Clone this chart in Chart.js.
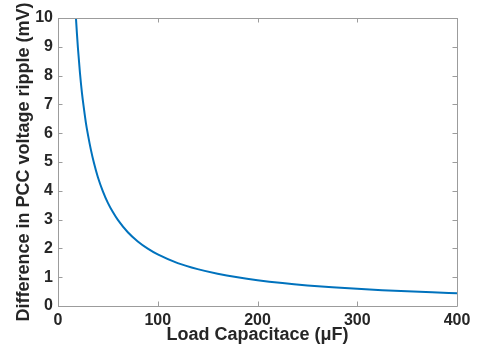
<!DOCTYPE html>
<html>
<head>
<meta charset="utf-8">
<script src="https://cdn.jsdelivr.net/npm/chart.js@4/dist/chart.umd.min.js"></script>
<style>
  html, body { margin: 0; padding: 0; background: #ffffff; }
  #wrap { width: 481px; height: 352px; }
</style>
</head>
<body>
<div id="wrap"><canvas id="c" width="481" height="352"></canvas></div>
<script>
// Load capacitance (µF) and the resulting difference in PCC voltage ripple (mV)
const capacitance = [18, 19, 20, 22, 24, 26, 28, 30, 33, 36, 40, 45, 50, 55, 60, 70, 80, 90, 100,
                     120, 140, 160, 180, 200, 225, 250, 275, 300, 325, 350, 375, 400];
const rippleDiff  = [10, 9.45, 8.95, 8.1, 7.4, 6.85, 6.35, 5.95, 5.42, 4.97, 4.47, 3.98, 3.58, 3.26, 2.99, 2.56, 2.24, 1.99, 1.79,
                     1.49, 1.28, 1.12, 0.995, 0.895, 0.795, 0.715, 0.65, 0.595, 0.55, 0.51, 0.475, 0.445];
const xTicks = [0, 100, 200, 300, 400];
const yTicks = [0, 1, 2, 3, 4, 5, 6, 7, 8, 9, 10];

const axisGray = '#9c9c9c';
const textColor = '#262626';
const fontFamily = '"Liberation Sans", Arial, Helvetica, sans-serif';

// Box around the plot with short inward tick marks on all four sides
const boxTicks = {
  id: 'boxTicks',
  afterDatasetsDraw(chart) {
    const { ctx, chartArea: a, scales: { x, y } } = chart;
    const len = 4.5;
    ctx.save();
    ctx.strokeStyle = axisGray;
    ctx.lineWidth = 1;
    ctx.beginPath();
    ctx.rect(Math.round(a.left) + 0.5, Math.round(a.top) + 0.5,
             Math.round(a.right - a.left), Math.round(a.bottom - a.top));
    x.ticks.forEach(t => {
      const px = Math.round(x.getPixelForValue(t.value)) + 0.5;
      ctx.moveTo(px, a.bottom); ctx.lineTo(px, a.bottom - len);
      ctx.moveTo(px, a.top);    ctx.lineTo(px, a.top + len);
    });
    y.ticks.forEach(t => {
      const py = Math.round(y.getPixelForValue(t.value)) + 0.5;
      ctx.moveTo(a.left, py);  ctx.lineTo(a.left + len, py);
      ctx.moveTo(a.right, py); ctx.lineTo(a.right - len, py);
    });
    ctx.stroke();
    ctx.restore();
  }
};

new Chart(document.getElementById('c'), {
  type: 'line',
  data: {
    datasets: [{
      data: capacitance.map((c, i) => ({ x: c, y: rippleDiff[i] })),
      borderColor: '#0072BD',
      borderWidth: 2,
      pointRadius: 0,
      fill: false,
      cubicInterpolationMode: 'monotone'
    }]
  },
  options: {
    responsive: false,
    animation: false,
    devicePixelRatio: 1,
    layout: { padding: { left: 0, top: 18, right: 24, bottom: 6 } },
    plugins: { legend: { display: false }, tooltip: { enabled: false } },
    scales: {
      x: {
        type: 'linear',
        min: 0, max: 400,
        afterBuildTicks: s => { s.ticks = xTicks.map(v => ({ value: v })); },
        afterFit: s => { s.height = 40; },
        grid: { display: false, drawTicks: false },
        border: { display: false },
        ticks: {
          padding: 5,
          color: textColor,
          font: { family: fontFamily, size: 16, weight: 'bold' },
          maxRotation: 0
        },
        title: {
          display: true,
          text: 'Load Capacitace (μF)',
          color: textColor,
          font: { family: fontFamily, size: 18, weight: 'bold' },
          padding: { top: 0, bottom: 0 }
        }
      },
      y: {
        type: 'linear',
        min: 0, max: 10,
        afterBuildTicks: s => { s.ticks = yTicks.map(v => ({ value: v })); },
        afterFit: s => { s.width = 58; },
        grid: { display: false, drawTicks: false },
        border: { display: false },
        ticks: {
          padding: 5,
          color: textColor,
          font: { family: fontFamily, size: 16, weight: 'bold' }
        },
        title: {
          display: true,
          text: 'Difference in PCC voltage ripple (mV)',
          color: textColor,
          font: { family: fontFamily, size: 18, weight: 'bold' },
          padding: { top: 13, bottom: 0 }
        }
      }
    }
  },
  plugins: [boxTicks]
});
</script>
</body>
</html>
